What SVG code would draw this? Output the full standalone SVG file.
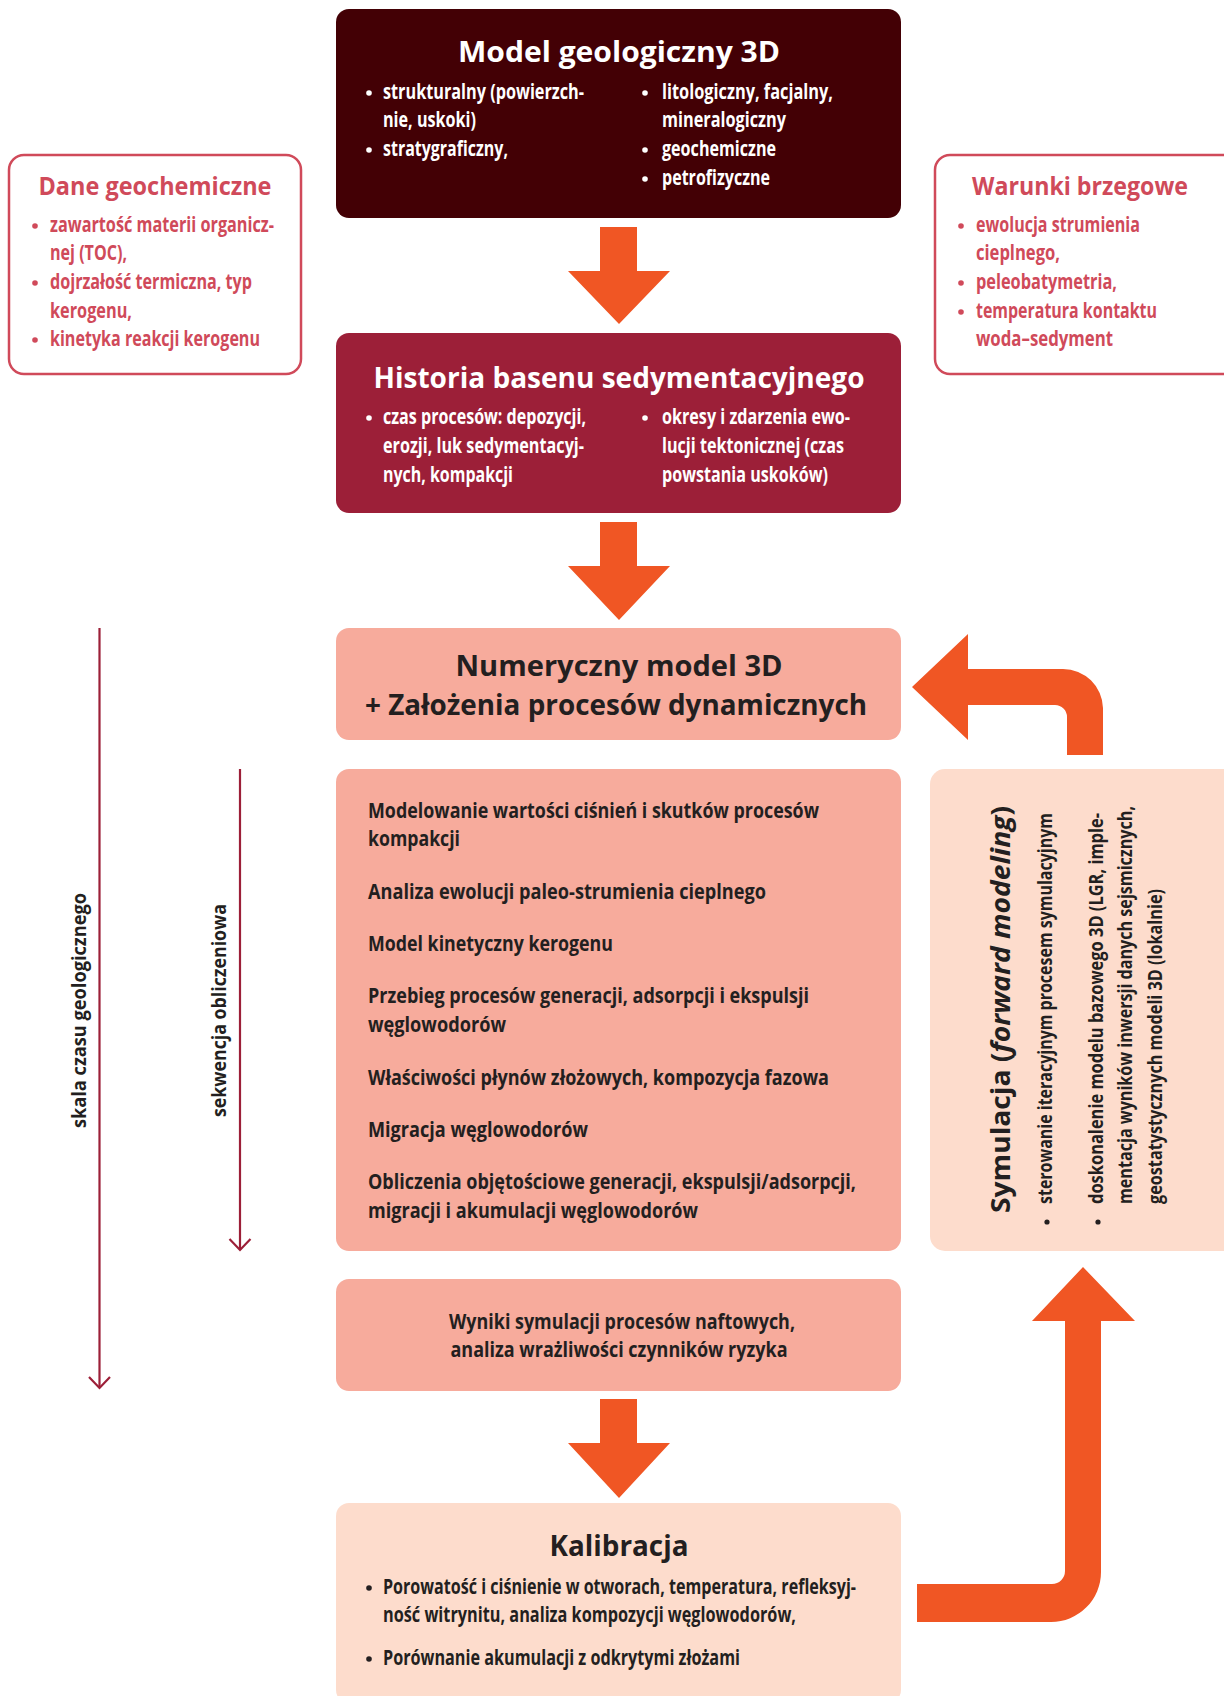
<svg xmlns="http://www.w3.org/2000/svg" width="1224" height="1696" viewBox="0 0 1224 1696">
<style>
.t{font-family:"Open Sans","Noto Sans","DejaVu Sans",sans-serif;}
.h{font-weight:700;}
.b{font-weight:700;font-size:22px;}
.s{font-weight:700;font-size:19px;}
.w{fill:#ffffff}
.r{fill:#d04a5a}
.d{fill:#231f20}
.ar{fill:#f05624}
.thin{stroke:#9c1f38;stroke-width:2.2;fill:none}
.side{fill:#ffffff;stroke:#d04a5a;stroke-width:2.5}
</style>
<rect width="1224" height="1696" fill="#ffffff"/>

<g id="node-model">
<rect x="336" y="9" width="565" height="209" rx="13" fill="#430005"/>
<text class="t h w" x="619" y="62" font-size="29" text-anchor="middle" textLength="322" lengthAdjust="spacingAndGlyphs">Model geologiczny 3D</text>
<circle class="w" cx="369" cy="93" r="2.8"/>
<circle class="w" cx="369" cy="150" r="2.8"/>
<text class="t b w" x="383" y="99" textLength="201" lengthAdjust="spacingAndGlyphs">strukturalny (powierzch-</text>
<text class="t b w" x="383" y="127" textLength="93" lengthAdjust="spacingAndGlyphs">nie, uskoki)</text>
<text class="t b w" x="383" y="156" textLength="125" lengthAdjust="spacingAndGlyphs">stratygraficzny,</text>
<circle class="w" cx="645" cy="93" r="2.8"/>
<circle class="w" cx="645" cy="150" r="2.8"/>
<circle class="w" cx="645" cy="179" r="2.8"/>
<text class="t b w" x="662" y="99" textLength="171" lengthAdjust="spacingAndGlyphs">litologiczny, facjalny,</text>
<text class="t b w" x="662" y="127" textLength="124" lengthAdjust="spacingAndGlyphs">mineralogiczny</text>
<text class="t b w" x="662" y="156" textLength="114" lengthAdjust="spacingAndGlyphs">geochemiczne</text>
<text class="t b w" x="662" y="185" textLength="108" lengthAdjust="spacingAndGlyphs">petrofizyczne</text>
</g>

<g id="node-dane">
<rect class="side" x="9" y="155" width="292" height="219" rx="15"/>
<text class="t h r" x="155" y="195" font-size="25" text-anchor="middle" textLength="233" lengthAdjust="spacingAndGlyphs">Dane geochemiczne</text>
<circle class="r" cx="35" cy="226" r="2.8"/>
<circle class="r" cx="35" cy="283" r="2.8"/>
<circle class="r" cx="35" cy="340" r="2.8"/>
<text class="t b r" x="50" y="232" textLength="224" lengthAdjust="spacingAndGlyphs">zawartość materii organicz-</text>
<text class="t b r" x="50" y="260" textLength="77" lengthAdjust="spacingAndGlyphs">nej (TOC),</text>
<text class="t b r" x="50" y="289" textLength="202" lengthAdjust="spacingAndGlyphs">dojrzałość termiczna, typ</text>
<text class="t b r" x="50" y="318" textLength="82" lengthAdjust="spacingAndGlyphs">kerogenu,</text>
<text class="t b r" x="50" y="346" textLength="210" lengthAdjust="spacingAndGlyphs">kinetyka reakcji kerogenu</text>
</g>

<g id="node-warunki">
<rect class="side" x="935" y="155" width="310" height="219" rx="15"/>
<text class="t h r" x="1080" y="195" font-size="25" text-anchor="middle" textLength="216" lengthAdjust="spacingAndGlyphs">Warunki brzegowe</text>
<circle class="r" cx="961" cy="226" r="2.8"/>
<circle class="r" cx="961" cy="283" r="2.8"/>
<circle class="r" cx="961" cy="312" r="2.8"/>
<text class="t b r" x="976" y="232" textLength="164" lengthAdjust="spacingAndGlyphs">ewolucja strumienia</text>
<text class="t b r" x="976" y="260" textLength="84" lengthAdjust="spacingAndGlyphs">cieplnego,</text>
<text class="t b r" x="976" y="289" textLength="141" lengthAdjust="spacingAndGlyphs">peleobatymetria,</text>
<text class="t b r" x="976" y="318" textLength="181" lengthAdjust="spacingAndGlyphs">temperatura kontaktu</text>
<text class="t b r" x="976" y="346" textLength="137" lengthAdjust="spacingAndGlyphs">woda–sedyment</text>
</g>

<g id="node-historia">
<rect x="336" y="333" width="565" height="180" rx="13" fill="#9c1f38"/>
<text class="t h w" x="619" y="388" font-size="28" text-anchor="middle" textLength="491" lengthAdjust="spacingAndGlyphs">Historia basenu sedymentacyjnego</text>
<circle class="w" cx="369" cy="418" r="2.8"/>
<circle class="w" cx="645" cy="418" r="2.8"/>
<text class="t b w" x="383" y="424" textLength="203" lengthAdjust="spacingAndGlyphs">czas procesów: depozycji,</text>
<text class="t b w" x="383" y="453" textLength="201" lengthAdjust="spacingAndGlyphs">erozji, luk sedymentacyj-</text>
<text class="t b w" x="383" y="482" textLength="130" lengthAdjust="spacingAndGlyphs">nych, kompakcji</text>
<text class="t b w" x="662" y="424" textLength="188" lengthAdjust="spacingAndGlyphs">okresy i zdarzenia ewo-</text>
<text class="t b w" x="662" y="453" textLength="182" lengthAdjust="spacingAndGlyphs">lucji tektonicznej (czas</text>
<text class="t b w" x="662" y="482" textLength="166" lengthAdjust="spacingAndGlyphs">powstania uskoków)</text>
</g>

<g id="node-numeryczny">
<rect x="336" y="628" width="565" height="112" rx="13" fill="#f7ab9c"/>
<text class="t h d" x="619" y="676" font-size="29" text-anchor="middle" textLength="327" lengthAdjust="spacingAndGlyphs">Numeryczny model 3D</text>
<text class="t h d" x="616" y="715" font-size="29" text-anchor="middle" textLength="502" lengthAdjust="spacingAndGlyphs">+ Założenia procesów dynamicznych</text>
</g>

<g id="node-procesy">
<rect x="336" y="769" width="565" height="482" rx="13" fill="#f7ab9c"/>
<text class="t b d" x="368" y="818" textLength="451" lengthAdjust="spacingAndGlyphs">Modelowanie wartości ciśnień i skutków procesów</text>
<text class="t b d" x="368" y="846" textLength="92" lengthAdjust="spacingAndGlyphs">kompakcji</text>
<text class="t b d" x="368" y="899" textLength="398" lengthAdjust="spacingAndGlyphs">Analiza ewolucji paleo-strumienia cieplnego</text>
<text class="t b d" x="368" y="951" textLength="245" lengthAdjust="spacingAndGlyphs">Model kinetyczny kerogenu</text>
<text class="t b d" x="368" y="1003" textLength="441" lengthAdjust="spacingAndGlyphs">Przebieg procesów generacji, adsorpcji i ekspulsji</text>
<text class="t b d" x="368" y="1032" textLength="138" lengthAdjust="spacingAndGlyphs">węglowodorów</text>
<text class="t b d" x="368" y="1085" textLength="461" lengthAdjust="spacingAndGlyphs">Właściwości płynów złożowych, kompozycja fazowa</text>
<text class="t b d" x="368" y="1137" textLength="220" lengthAdjust="spacingAndGlyphs">Migracja węglowodorów</text>
<text class="t b d" x="368" y="1189" textLength="488" lengthAdjust="spacingAndGlyphs">Obliczenia objętościowe generacji, ekspulsji/adsorpcji,</text>
<text class="t b d" x="368" y="1218" textLength="330" lengthAdjust="spacingAndGlyphs">migracji i akumulacji węglowodorów</text>
</g>

<g id="node-symulacja">
<rect x="930" y="769" width="310" height="482" rx="15" fill="#fddccc"/>
<text class="t h d" font-size="27" transform="translate(1010,1213) rotate(-90)" textLength="407" lengthAdjust="spacingAndGlyphs">Symulacja (<tspan font-style="italic">forward modeling</tspan>)</text>
<circle class="d" cx="1047" cy="1222" r="2.6"/>
<circle class="d" cx="1098" cy="1222" r="2.6"/>
<text class="t s d" transform="translate(1052,1204) rotate(-90)" textLength="391" lengthAdjust="spacingAndGlyphs">sterowanie iteracyjnym procesem symulacyjnym</text>
<text class="t s d" transform="translate(1103,1204) rotate(-90)" textLength="391" lengthAdjust="spacingAndGlyphs">doskonalenie modelu bazowego 3D (LGR, imple-</text>
<text class="t s d" transform="translate(1132,1204) rotate(-90)" textLength="398" lengthAdjust="spacingAndGlyphs">mentacja wyników inwersji danych sejsmicznych,</text>
<text class="t s d" transform="translate(1162,1204) rotate(-90)" textLength="315" lengthAdjust="spacingAndGlyphs">geostatystycznych modeli 3D (lokalnie)</text>
</g>

<g id="node-wyniki">
<rect x="336" y="1279" width="565" height="112" rx="13" fill="#f7ab9c"/>
<text class="t b d" x="622" y="1329" text-anchor="middle" textLength="346" lengthAdjust="spacingAndGlyphs">Wyniki symulacji procesów naftowych,</text>
<text class="t b d" x="619" y="1357" text-anchor="middle" textLength="337" lengthAdjust="spacingAndGlyphs">analiza wrażliwości czynników ryzyka</text>
</g>

<g id="node-kalibracja">
<rect x="336" y="1503" width="565" height="200" rx="13" fill="#fddccc"/>
<text class="t h d" x="619" y="1556" font-size="28" text-anchor="middle" textLength="139" lengthAdjust="spacingAndGlyphs">Kalibracja</text>
<circle class="d" cx="369" cy="1588" r="2.8"/>
<circle class="d" cx="369" cy="1659" r="2.8"/>
<text class="t b d" x="383" y="1594" textLength="473" lengthAdjust="spacingAndGlyphs">Porowatość i ciśnienie w otworach, temperatura, refleksyj-</text>
<text class="t b d" x="383" y="1622" textLength="413" lengthAdjust="spacingAndGlyphs">ność witrynitu, analiza kompozycji węglowodorów,</text>
<text class="t b d" x="383" y="1665" textLength="357" lengthAdjust="spacingAndGlyphs">Porównanie akumulacji z odkrytymi złożami</text>
</g>

<g id="connectors">
<path class="ar" d="M600 227 H637 V271 H670 L619 324 L568 271 H600 Z"/>
<path class="ar" d="M600 522 H637 V566 H670 L619 620 L568 566 H600 Z"/>
<path class="ar" d="M600 1399 H637 V1443 H670 L619 1498 L568 1443 H600 Z"/>
<path class="ar" d="M1103 755 V708 A40 40 0 0 0 1063 669 H968 V634 L912 687 L968 740 V705 H1055 A12 12 0 0 1 1067 717 V755 Z"/>
<path class="ar" d="M917 1584 H1052 A13 13 0 0 0 1065 1571 V1321 H1032 L1083 1267 L1135 1321 H1101 V1572 A50 50 0 0 1 1051 1622 H917 Z"/>
<line class="thin" x1="99.5" y1="628" x2="99.5" y2="1388"/>
<polyline class="thin" points="89,1377 99.5,1388 110,1377"/>
<line class="thin" x1="240" y1="769" x2="240" y2="1250"/>
<polyline class="thin" points="229.5,1239 240,1250 250.5,1239"/>
<text class="t d" font-size="20" font-weight="700" transform="translate(86,1128) rotate(-90)" textLength="235" lengthAdjust="spacingAndGlyphs">skala czasu geologicznego</text>
<text class="t d" font-size="20" font-weight="700" transform="translate(226,1117) rotate(-90)" textLength="213" lengthAdjust="spacingAndGlyphs">sekwencja obliczeniowa</text>
</g>
</svg>
